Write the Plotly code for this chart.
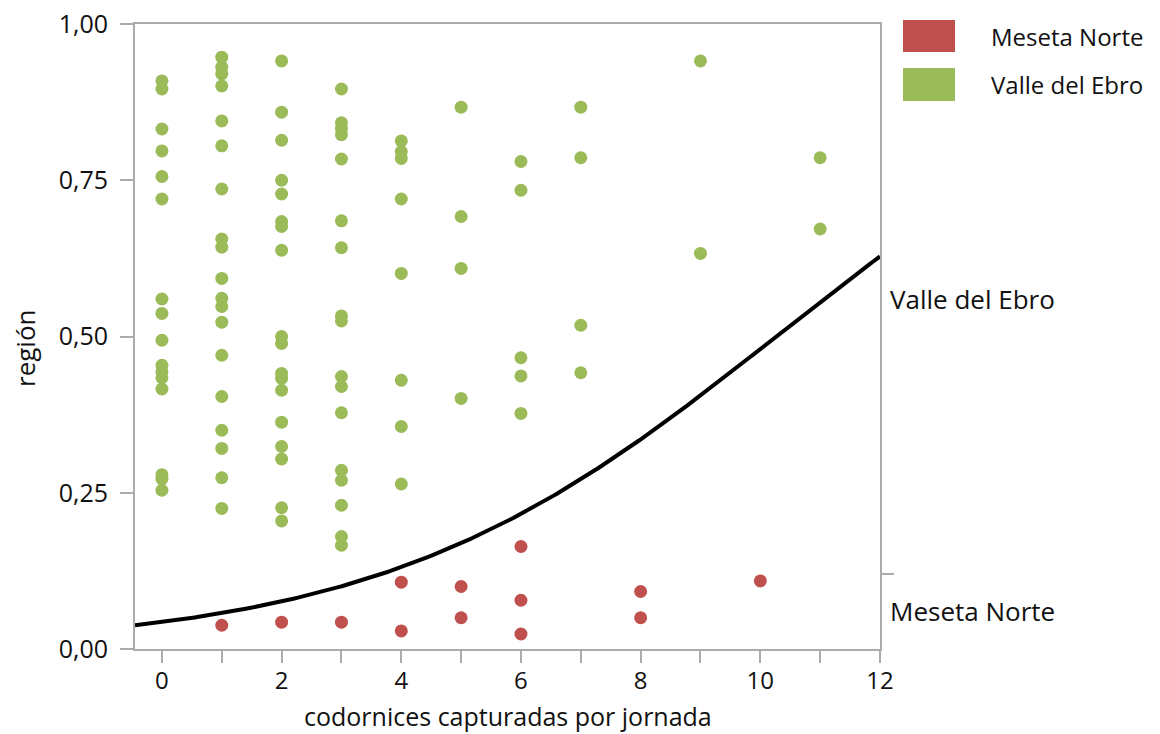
import numpy as np
import plotly.graph_objects as go

# ---------------- data ----------------
categories = ["Meseta Norte", "Valle del Ebro"]
colors = ["#C0504D", "#9BBB59"]

# Meseta Norte observations (x = quail per day, y = jitter position in plot)
meseta_x = [1, 2, 3, 4, 4, 5, 5, 6, 6, 6, 8, 8, 10]
meseta_y = [0.038, 0.043, 0.043, 0.107, 0.029, 0.100, 0.050, 0.164, 0.078, 0.024,
            0.092, 0.050, 0.109]

# Valle del Ebro observations
ebro_x = ([0] * 16 + [1] * 19 + [2] * 18 + [3] * 17 + [4] * 8 + [5] * 4 + [6] * 5
          + [7] * 4 + [9] * 2 + [11] * 2)
ebro_y = [
    # x = 0
    0.909, 0.896, 0.832, 0.797, 0.756, 0.720, 0.560, 0.537, 0.494, 0.454, 0.444,
    0.434, 0.416, 0.279, 0.272, 0.254,
    # x = 1
    0.947, 0.931, 0.920, 0.901, 0.845, 0.805, 0.736, 0.656, 0.643, 0.593, 0.561,
    0.548, 0.523, 0.470, 0.404, 0.350, 0.321, 0.274, 0.225,
    # x = 2
    0.941, 0.859, 0.814, 0.750, 0.728, 0.684, 0.676, 0.638, 0.500, 0.489, 0.441,
    0.433, 0.414, 0.363, 0.324, 0.304, 0.226, 0.205,
    # x = 3
    0.896, 0.842, 0.833, 0.823, 0.784, 0.685, 0.642, 0.533, 0.525, 0.436, 0.420,
    0.378, 0.286, 0.270, 0.230, 0.180, 0.166,
    # x = 4
    0.813, 0.796, 0.785, 0.720, 0.601, 0.430, 0.356, 0.264,
    # x = 5
    0.867, 0.692, 0.609, 0.401,
    # x = 6
    0.780, 0.734, 0.466, 0.437, 0.377,
    # x = 7
    0.867, 0.786, 0.518, 0.442,
    # x = 9
    0.941, 0.633,
    # x = 11
    0.786, 0.672,
]

# logistic fit of P(Meseta Norte | x), coefficients as reported by the fit
fit_intercept = -3.10
fit_slope = 0.302

x_tick_vals = list(range(0, 13))
x_tick_text = [str(v) if v % 2 == 0 else "" for v in x_tick_vals]
y_tick_vals = [0, 0.25, 0.5, 0.75, 1.0]
y_tick_text = ["0,00", "0,25", "0,50", "0,75", "1,00"]

x_title = "codornices capturadas por jornada"
y_title = "región"

# ---------------- fitted curve ----------------
x_min, x_max = -0.45, 12
xs = np.linspace(x_min, x_max, 300)
ps = 1 / (1 + np.exp(-(fit_intercept + fit_slope * xs)))
p_meseta = len(meseta_x) / (len(meseta_x) + len(ebro_x))

# ---------------- figure ----------------
FONT = "Open Sans"
FS = 26       # right labels, y title
FS_TICK = 24  # tick labels
FS_XT = 25    # x title
FS_LEG = 24   # legend text
AX = "#ABABAB"
TXT = "#111111"

L, R, T, B = 135, 280, 24, 85
W, H = 1160, 734
plot_w = W - L - R
plot_h = H - T - B

def px_x(px):
    return (px - L) / plot_w

def px_y(py):
    return (H - B - py) / plot_h

fig = go.Figure()
fig.add_trace(go.Scatter(x=meseta_x, y=meseta_y, mode="markers", name=categories[0],
                         marker=dict(color=colors[0], size=13, line=dict(width=0))))
fig.add_trace(go.Scatter(x=ebro_x, y=ebro_y, mode="markers", name=categories[1],
                         marker=dict(color=colors[1], size=13, line=dict(width=0))))
fig.add_trace(go.Scatter(x=xs, y=ps, mode="lines", yaxis="y2",
                         line=dict(color="black", width=4), showlegend=False))

fig.update_layout(
    width=W, height=H,
    margin=dict(l=L, r=R, t=T, b=B, autoexpand=False),
    paper_bgcolor="white", plot_bgcolor="white",
    showlegend=False,
    font=dict(family=FONT, size=FS, color=TXT),
    xaxis=dict(range=[x_min, x_max], tickvals=x_tick_vals, ticktext=x_tick_text,
               ticks="outside", ticklen=12, tickwidth=2, tickcolor=AX,
               showline=True, linecolor=AX, linewidth=2, mirror=True,
               showgrid=False, zeroline=False, tickfont=dict(size=FS_TICK),
               ticklabelstandoff=-3, automargin=False),
    yaxis=dict(range=[0, 1], tickvals=y_tick_vals, ticktext=y_tick_text,
               ticks="outside", ticklen=13, tickwidth=2, tickcolor=AX,
               showline=True, linecolor=AX, linewidth=2, mirror=True,
               showgrid=False, zeroline=False, tickfont=dict(size=FS_TICK + 1),
               ticklabelstandoff=7, automargin=False),
    yaxis2=dict(range=[0, 1], overlaying="y", side="right",
                tickvals=[p_meseta], ticktext=[""],
                ticks="outside", ticklen=13, tickwidth=2, tickcolor=AX,
                showline=False, showgrid=False, zeroline=False, automargin=False),
)

# axis titles
fig.add_annotation(text=x_title, xref="paper", yref="paper", x=0.5, y=px_y(733.5),
                   showarrow=False, font=dict(size=FS_XT, color=TXT),
                   xanchor="center", yanchor="bottom", borderpad=0)
fig.add_annotation(text=y_title, xref="paper", yref="paper", x=px_x(25), y=px_y(348),
                   textangle=-90, showarrow=False, font=dict(size=FS, color=TXT),
                   xanchor="center", yanchor="middle")

# right-side category labels
fig.add_annotation(text=categories[1], xref="paper", yref="y", x=px_x(888),
                   y=(1 + p_meseta) / 2, showarrow=False, xanchor="left",
                   yanchor="middle", font=dict(size=FS, color=TXT))
fig.add_annotation(text=categories[0], xref="paper", yref="y", x=px_x(888),
                   y=p_meseta / 2, showarrow=False, xanchor="left",
                   yanchor="middle", font=dict(size=FS, color=TXT))

# legend (swatches + text)
legend_rows = [(20, 52), (68, 101)]
for cat, col, (top, bot) in zip(categories, colors, legend_rows):
    fig.add_shape(type="rect", xref="paper", yref="paper",
                  x0=px_x(903), x1=px_x(955), y0=px_y(bot), y1=px_y(top),
                  fillcolor=col, line=dict(width=0))
    fig.add_annotation(text=cat, xref="paper", yref="paper", x=px_x(989),
                       y=px_y((top + bot) / 2), showarrow=False, xanchor="left",
                       yanchor="middle", font=dict(size=FS_LEG, color=TXT))

fig.write_html("out.html")
